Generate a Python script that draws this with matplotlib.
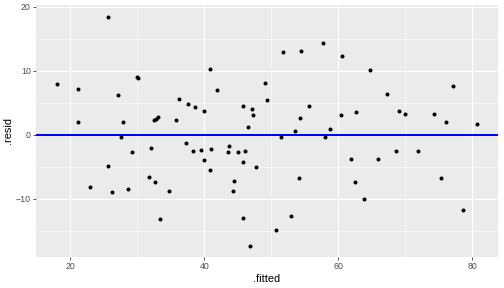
import numpy as np
import matplotlib
matplotlib.use("Agg")
import matplotlib.pyplot as plt

plt.rcParams['font.family'] = ['Liberation Sans', 'DejaVu Sans']

fitted = [17.97, 21.1, 21.2, 25.6, 27.07, 27.8, 27.56, 29.9, 30.1, 32.5, 32.8, 33.1,
          35.8, 36.2, 37.5, 38.6, 40.0, 40.84, 41.88, 45.7, 47.1, 47.25, 46.46, 49.08,
          49.4, 51.77, 54.36, 55.55, 54.26, 53.5, 51.5, 57.7, 58.0, 58.7,
          60.52, 60.42, 62.66, 64.74, 67.19, 68.98, 69.96, 74.29, 76.08, 77.03, 80.7,
          29.25, 32.04, 25.67, 22.9, 26.26, 28.56, 31.78, 32.58, 33.42, 34.76,
          37.21, 38.34, 39.49, 40.94, 39.99, 40.84, 43.67, 43.57, 44.97, 46.1, 45.8,
          47.65, 44.37, 44.31, 45.76, 46.8, 50.63, 52.92, 54.1,
          61.86, 65.94, 68.62, 71.9, 62.5, 63.85, 75.24, 78.52]
resid = [7.92, 7.09, 1.98, 18.44, 6.2, 1.93, -0.3, 9.0, 8.8, 2.25, 2.5, 2.72,
         2.3, 5.58, 4.8, 4.28, 3.75, 10.2, 7.03, 4.48, 3.97, 3.08, 1.25, 8.08,
         5.47, 12.92, 13.13, 4.43, 2.56, 0.58, -0.36, 14.38, -0.41, 0.84,
         12.25, 3.03, 3.5, 10.16, 6.31, 3.66, 3.18, 3.28, 2.03, 7.61, 1.62,
         -2.75, -2.13, -4.84, -8.12, -8.95, -8.48, -6.66, -7.39, -13.22, -8.75,
         -1.35, -2.5, -2.34, -2.23, -3.9, -5.57, -1.77, -2.7, -2.76, -2.55, -4.32,
         -5.1, -7.19, -8.75, -13.07, -17.34, -14.89, -12.7, -6.82,
         -3.74, -3.74, -2.55, -2.6, -7.33, -10.05, -6.82, -11.77]

xticks = [20, 40, 60, 80]
yticks = [-10, 0, 10, 20]

fig = plt.figure(figsize=(7, 4), dpi=72)
ax = fig.add_axes([0.0708, 0.109, 0.988 - 0.0708, 0.983 - 0.109])
ax.set_facecolor('#EBEBEB')
for s in ax.spines.values():
    s.set_visible(False)

ax.set_xticks(xticks)
ax.set_yticks(yticks)
ax.set_xticks([10, 30, 50, 70], minor=True)
ax.set_yticks([-15, -5, 5, 15], minor=True)
ax.set_xlim(14.84, 83.8)
ax.set_ylim(-19.06, 20.3)
ax.grid(which='major', color='white', linewidth=1.1)
ax.grid(which='minor', color='white', linewidth=0.55)
ax.set_axisbelow(True)
ax.tick_params(which='major', length=2.75, width=0.8, color='#333333',
               labelcolor='#4D4D4D', labelsize=8.8, pad=2.2)
ax.tick_params(which='minor', length=0)

ax.scatter(fitted, resid, s=16, color='black', zorder=3, linewidths=0)
ax.axhline(0, color='#0000FF', linewidth=2, zorder=4)

ax.set_xlabel('.fitted', fontsize=11, labelpad=3)
ax.set_ylabel('.resid', fontsize=11, labelpad=3)

fig.savefig('out.png', dpi=72)
